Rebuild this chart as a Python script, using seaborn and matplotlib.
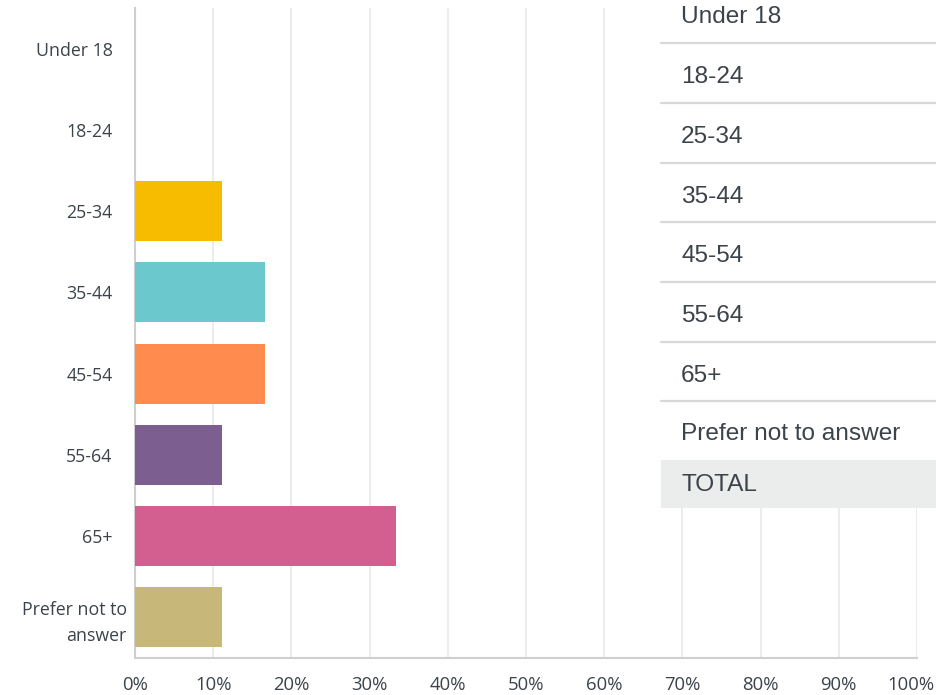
import matplotlib
matplotlib.use("Agg")
import matplotlib.pyplot as plt
from matplotlib.patches import Rectangle
from matplotlib.lines import Line2D
from matplotlib.transforms import ScaledTranslation
import seaborn as sns
import pandas as pd

categories = ["Under 18", "18-24", "25-34", "35-44", "45-54", "55-64", "65+", "Prefer not to\nanswer"]
table_labels = ["Under 18", "18-24", "25-34", "35-44", "45-54", "55-64", "65+", "Prefer not to answer"]
values = [0.0, 0.0, 11.11, 16.67, 16.67, 11.11, 33.33, 11.11]
colors = ["#00bf6f", "#507cb6", "#f7bc00", "#6bc8cd", "#ff8b4f", "#7d5e90", "#d25f90", "#c7b879"]
x_ticks = [0, 10, 20, 30, 40, 50, 60, 70, 80, 90, 100]
total_label = "TOTAL"

sns.set_theme(style="white")
plt.rcParams["font.family"] = ["Open Sans", "DejaVu Sans"]

W, H = 936, 695
fig = plt.figure(figsize=(W / 100, H / 100), dpi=100)
ax = fig.add_axes([135 / W, 1 - 658 / H, (917 - 135) / W, (658 - 8) / H])

df = pd.DataFrame({"cat": categories, "val": values})
sns.barplot(data=df, y="cat", x="val", hue="cat", palette=colors, legend=False,
            orient="h", width=0.74, ax=ax, saturation=1, edgecolor="none",
            linewidth=0, zorder=3)

ax.set_xlim(0, 100)
ax.set_ylim(len(categories) - 0.5, -0.5)
ax.set_xticks(x_ticks)
ax.set_xticklabels([f"{t}%" for t in x_ticks])
ax.grid(axis="x", color="#e9e9e9", linewidth=1.2, zorder=0)
ax.set_axisbelow(True)
ax.set_xlabel("")
ax.set_ylabel("")
for s in ["top", "right"]:
    ax.spines[s].set_visible(False)
ax.spines["left"].set_color("#cfcfcf")
ax.spines["bottom"].set_color("#cfcfcf")
ax.spines["left"].set_linewidth(1.5)
ax.spines["bottom"].set_linewidth(1.5)
ax.tick_params(axis="y", length=0, pad=6, labelsize=12.8, labelcolor="#3c434a")
ax.tick_params(axis="x", length=0, pad=13, labelsize=13.3, labelcolor="#3c434a")
for lbl in ax.get_yticklabels():
    lbl.set_horizontalalignment("right")
    lbl.set_multialignment("right")
    lbl.set_linespacing(1.55)
    if "\n" not in lbl.get_text():
        lbl.set_transform(lbl.get_transform() + ScaledTranslation(-14 / 100, 0, fig.dpi_scale_trans))
last = ax.get_xticklabels()[-1]
last.set_horizontalalignment("right")
last.set_transform(last.get_transform() + ScaledTranslation(17 / 100, 0, fig.dpi_scale_trans))


def fx(px):
    return px / W


def fy(py):
    return 1 - py / H


# Table overlay
x0 = 661
fig.add_artist(Rectangle((fx(x0), fy(460)), fx(W - x0), 460 / H, transform=fig.transFigure,
                         facecolor="white", edgecolor="none", zorder=5))
fig.add_artist(Rectangle((fx(x0), fy(508)), fx(W - x0), 48 / H, transform=fig.transFigure,
                         facecolor="#ebeded", edgecolor="none", zorder=6))
row_lines = [43, 103, 163, 222, 282, 342, 401]
for y in row_lines:
    fig.add_artist(Line2D([fx(x0), 1], [fy(y), fy(y)], transform=fig.transFigure,
                          color="#d6d8d9", linewidth=1.6, zorder=6))
text_y = [17, 77, 137, 197, 256, 316, 376, 434]
for lab, y in zip(table_labels, text_y):
    fig.text(fx(681), fy(y), lab, ha="left", va="center", fontsize=17.6,
             family=["Liberation Sans", "DejaVu Sans"], color="#3c434a", zorder=7)
fig.text(fx(681), fy(485), total_label, ha="left", va="center", fontsize=17.6,
         family=["Liberation Sans", "DejaVu Sans"], color="#3c434a", zorder=7)

fig.savefig("out.png", dpi=100)
